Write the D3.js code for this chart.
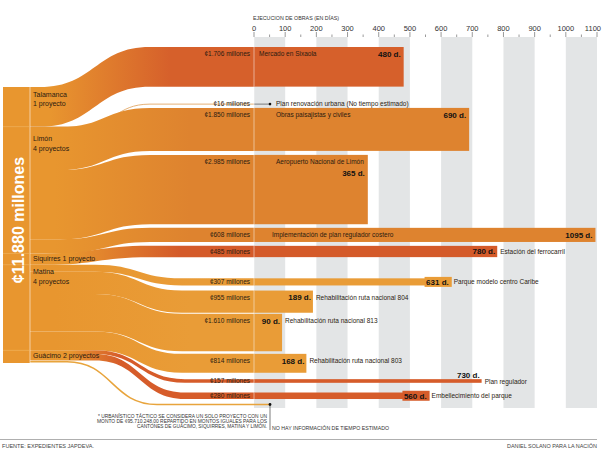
<!DOCTYPE html>
<html>
<head>
<meta charset="utf-8">
<script src="https://cdn.jsdelivr.net/npm/d3@7"></script>
<style>
body { margin: 0; background: #fff; }
svg { display: block; font-family: "Liberation Sans", Arial, sans-serif; }
</style>
</head>
<body>
<svg id="chart" width="604" height="457"></svg>
<script>
// datos
const TOTAL = 11880
const totalLabel = '¢11.880 millones'
const cantonLines = [['Talamanca', '1 proyecto'], ['Limón', '4 proyectos'], ['Siquirres 1 proyecto'], ['Matina', '4 proyectos'], ['Guácimo 2 proyectos']]
const projects = ['Mercado en Sixaola', 'Plan renovación urbana (No tiempo estimado)', 'Obras paisajistas y civiles',
	'Aeropuerto Nacional de Limón', 'Implementación de plan regulador costero', 'Estación del ferrocarril',
	'Parque modelo centro Caribe', 'Rehabilitación ruta nacional 804', 'Rehabilitación ruta nacional 813',
	'Rehabilitación ruta nacional 803', 'Plan regulador', 'Embellecimiento del parque']
const projectCanton = [0, 1, 1, 1, 1, 2, 3, 3, 3, 3, 4, 4]
const amounts = [1706, 16, 1850, 2985, 608, 485, 307, 955, 1610, 814, 157, 280]
const days = [480, null, 690, 365, 1095, 780, 631, 189, 90, 168, 730, 560]
const dayTicks = [0, 100, 200, 300, 400, 500, 600, 700, 800, 900, 1000, 1100]
const axisTitle = 'EJECUCION DE OBRAS (EN DÍAS)'
const footnote = ['* URBANÍSTICO TÁCTICO SE CONSIDERA UN SOLO PROYECTO CON UN',
	'MONTO DE  ¢95.710.248,00 REPARTIDO EN MONTOS IGUALES PARA LOS',
	'CANTONES DE GUÁCIMO, SIQUIRRES, MATINA Y LIMÓN.']
const noTime = 'NO HAY INFORMACIÓN DE TIEMPO ESTIMADO'
const source = 'FUENTE: EXPEDIENTES JAPDEVA.'
const credit = 'DANIEL SOLANO PARA LA NACIÓN'

// maqueta
const x = d3.scaleLinear().domain([0, 1100]).range([254, 597])
const h = d3.scaleLinear().domain([0, TOTAL]).range([0, 276])
const leftTop = 87
const barTop0 = 47
const gaps = [0, 17.3, 3.6, 4, 3.6, 3.9, 21.2, 5.1, 1.1, 2.6, 6.4, 9.7]
const urbanGap = 5.5
const curveSpan = [[40, 150], [60, 150], [45, 150], [95, 182], [95, 185]]
const gradSpan = [[50, 170], [55, 190], [70, 180], [55, 190], [70, 120]]
const labelDy = [7, 12, 5.5, 7, 5.5]
const colors = ['#d6602b', '#de832f', '#d45a29', '#e99c37', '#d65c2a']
const leftColor = '#e8962f'
const textColor = '#2b1b10'

const svg = d3.select('#chart')
const fmt = v => '¢' + d3.format(',')(v).replace(/,/g, '.') + ' millones'

// gradientes por cantón
const defs = svg.append('defs')
colors.forEach((c, i) => {
	const g = defs.append('linearGradient').attr('id', 'g' + i)
		.attr('gradientUnits', 'userSpaceOnUse').attr('x1', gradSpan[i][0]).attr('x2', gradSpan[i][1]).attr('y1', 0).attr('y2', 0)
	g.append('stop').attr('offset', 0).attr('stop-color', leftColor)
	g.append('stop').attr('offset', 1).attr('stop-color', c)
})

// franjas grises y eje
for (var i = 0; i < dayTicks.length - 1; i += 2) {
	svg.append('rect').attr('x', x(dayTicks[i])).attr('y', 37)
		.attr('width', x(dayTicks[i + 1]) - x(dayTicks[i])).attr('height', 371).attr('fill', '#e3e5e6')
}
const axis = svg.append('g')
axis.selectAll('line.major').data(dayTicks).join('line')
	.attr('x1', d => x(d)).attr('x2', d => x(d)).attr('y1', 32).attr('y2', 37)
	.attr('stroke', '#555').attr('stroke-width', 0.6)
axis.selectAll('line.minor').data(dayTicks.slice(0, -1)).join('line')
	.attr('x1', d => x(d + 50)).attr('x2', d => x(d + 50)).attr('y1', 34.5).attr('y2', 37)
	.attr('stroke', '#555').attr('stroke-width', 0.6)
axis.selectAll('text').data(dayTicks).join('text')
	.attr('x', d => x(d)).attr('y', 31).attr('text-anchor', d => d === 1100 ? 'end' : 'middle')
	.attr('dx', d => d === 1100 ? 4 : 0)
	.attr('font-size', 7.5).attr('font-weight', 300).attr('fill', '#333').text(d => d)
svg.append('text').attr('x', 253).attr('y', 20).attr('font-size', 5.5).attr('fill', '#333')
	.attr('textLength', 86).attr('lengthAdjust', 'spacingAndGlyphs').text(axisTitle)

// posiciones
var cum = 0, rt = barTop0
const nodes = amounts.map((a, i) => {
	const n = { i: i, c: projectCanton[i], hh: h(a), yL: leftTop + h(cum) }
	if (i > 0) rt += gaps[i]
	n.yR = rt
	rt += n.hh
	cum += a
	return n
})
const remainder = TOTAL - cum
const cantonTop = cantonLines.map((_, c) => d3.min(nodes.filter(n => n.c === c), n => n.yL))

// columna izquierda
svg.append('rect').attr('x', 3).attr('y', leftTop).attr('width', 27).attr('height', h(TOTAL)).attr('fill', leftColor)

function bandPath(n, xEnd) {
	const [xs, xe] = curveSpan[n.c], xm = (xs + xe) / 2
	const p = d3.path()
	p.moveTo(30, n.yL)
	p.lineTo(xs, n.yL)
	p.bezierCurveTo(xm, n.yL, xm, n.yR, xe, n.yR)
	p.lineTo(xEnd, n.yR)
	p.lineTo(xEnd, n.yR + n.hh)
	p.lineTo(xe, n.yR + n.hh)
	p.bezierCurveTo(xm, n.yR + n.hh, xm, n.yL + n.hh, xs, n.yL + n.hh)
	p.lineTo(30, n.yL + n.hh)
	p.closePath()
	return p.toString()
}
function linePath(xs, xe, y0, y1, xEnd) {
	const xm = (xs + xe) / 2, p = d3.path()
	p.moveTo(30, y0); p.lineTo(xs, y0)
	p.bezierCurveTo(xm, y0, xm, y1, xe, y1)
	p.lineTo(xEnd, y1)
	return p.toString()
}

// bandas y barras
nodes.forEach(n => {
	if (days[n.i] === null) {
		const yl = n.yL + n.hh / 2, yr = n.yR + n.hh / 2
		svg.append('path').attr('d', linePath(curveSpan[n.c][0] + 20, curveSpan[n.c][1], yl, yr, x(0)))
			.attr('fill', 'none').attr('stroke', '#e2a866').attr('stroke-width', 0.9)
		svg.append('line').attr('x1', x(0)).attr('x2', 270).attr('y1', yr).attr('y2', yr)
			.attr('stroke', '#333').attr('stroke-width', 0.6)
		svg.append('circle').attr('cx', 270).attr('cy', yr).attr('r', 1.3).attr('fill', '#111')
		n.lineY = yr
		return
	}
	svg.append('path').attr('d', bandPath(n, x(0) + 0.5)).attr('fill', `url(#g${n.c})`)
	svg.append('rect').attr('x', x(0)).attr('y', n.yR).attr('width', x(days[n.i]) - x(0)).attr('height', n.hh)
		.attr('fill', colors[n.c])
})

// línea del proyecto urbanístico (resto)
const yUrbL = leftTop + h(cum) + h(remainder) / 2
const yUrbR = rt + urbanGap
svg.append('path').attr('d', linePath(67, 157, yUrbL, yUrbR, 270))
	.attr('fill', 'none').attr('stroke', '#e8a43c').attr('stroke-width', 1.5)
svg.append('line').attr('x1', 270).attr('x2', 270).attr('y1', yUrbR).attr('y2', 430)
	.attr('stroke', '#222').attr('stroke-width', 0.6)
svg.append('circle').attr('cx', 270).attr('cy', yUrbR).attr('r', 1.4).attr('fill', '#111')

// líneas blancas
svg.append('line').attr('x1', 30).attr('x2', 30).attr('y1', leftTop).attr('y2', leftTop + h(TOTAL))
	.attr('stroke', '#fff').attr('stroke-width', 0.7).attr('opacity', 0.8)
svg.append('line').attr('x1', x(0)).attr('x2', x(0)).attr('y1', 37).attr('y2', 400)
	.attr('stroke', '#fff').attr('stroke-width', 0.7).attr('opacity', 0.7)
cantonTop.slice(1).forEach(y => {
	svg.append('line').attr('x1', 3).attr('x2', 30).attr('y1', y).attr('y2', y)
		.attr('stroke', '#f3bd6e').attr('stroke-width', 0.5)
})

// total
svg.append('text').attr('transform', `translate(23.5,${leftTop + h(TOTAL) / 2 - 5}) rotate(-90)`)
	.attr('text-anchor', 'middle').attr('font-size', 16).attr('font-weight', 'bold').attr('fill', '#fff')
	.text(totalLabel)

// etiquetas de cantón
cantonLines.forEach((lines, c) => {
	const t = svg.append('text').attr('x', 33).attr('font-size', 7).attr('fill', textColor)
	lines.forEach((l, k) => {
		t.append('tspan').attr('x', 33).attr('y', cantonTop[c] + labelDy[c] + 2.5 + k * 9.5).text(l)
	})
})

// etiquetas de montos, nombres y días
nodes.forEach(n => {
	const i = n.i
	const yMid = n.lineY !== undefined ? n.lineY : Math.min(n.yR + 7, n.yR + n.hh / 2)
	svg.append('text').attr('x', 250).attr('y', yMid + 2.3).attr('text-anchor', 'end')
		.attr('font-size', 6.5).attr('fill', textColor).text(fmt(amounts[i]))
	if (days[i] === null) {
		svg.append('text').attr('x', 276).attr('y', yMid + 2.3).attr('font-size', 6.5).attr('fill', textColor).text(projects[i])
		return
	}
	const xe = x(days[i])
	const inside = n.hh >= 14 && xe - x(0) > 100
	if (inside) {
		const nx = i === 0 ? 259 : (n.hh > 20 ? 276 : 272)
		const name = svg.append('text').attr('x', nx).attr('y', yMid + 2.3).attr('font-size', 6.5)
			.attr('fill', textColor).text(projects[i])
		const val = svg.append('text').attr('x', xe - 3).attr('y', yMid + 2.8).attr('text-anchor', 'end')
			.attr('font-size', 8).attr('font-weight', 'bold').attr('fill', '#111').text(days[i] + ' d.')
		const vw = val.node().getComputedTextLength()
		if (nx + name.node().getComputedTextLength() + 4 > xe - 3 - vw) val.attr('y', yMid + 14)
	} else {
		var vy = yMid + 2.8
		if (n.hh < 5) vy = n.yR - 1.5
		const val = svg.append('text').attr('x', xe - 2).attr('y', vy).attr('text-anchor', 'end')
			.attr('font-size', 8).attr('font-weight', 'bold').attr('fill', '#111').text(days[i] + ' d.')
		if (n.hh >= 5 && n.hh < 11) {
			const vw = val.node().getComputedTextLength()
			svg.insert('rect', () => val.node()).attr('x', xe - vw - 3.5).attr('y', yMid - 5)
				.attr('width', vw + 4.5).attr('height', 10).attr('fill', colors[n.c])
		}
		svg.append('text').attr('x', xe + 3).attr('y', yMid + 2.3 + (n.hh < 5 ? 1 : 0)).attr('font-size', 6.5)
			.attr('fill', textColor).text(projects[i])
	}
})

// nota al pie
footnote.forEach((l, k) => {
	const widths = [169, 170, 130]
	svg.append('text').attr('x', 267).attr('y', 417.5 + k * 5.4).attr('text-anchor', 'end')
		.attr('font-size', 4.8).attr('fill', '#333')
		.attr('textLength', widths[k]).attr('lengthAdjust', 'spacingAndGlyphs').text(l)
})
svg.append('text').attr('x', 272).attr('y', 429.5).attr('font-size', 4.8).attr('fill', '#333')
	.attr('textLength', 117).attr('lengthAdjust', 'spacingAndGlyphs').text(noTime)

// pie
svg.append('line').attr('x1', 0).attr('x2', 597).attr('y1', 439.5).attr('y2', 439.5)
	.attr('stroke', '#9a9a9a').attr('stroke-width', 0.8)
svg.append('text').attr('x', 2).attr('y', 448).attr('font-size', 5.8).attr('fill', '#444')
	.attr('textLength', 92).attr('lengthAdjust', 'spacingAndGlyphs').text(source)
svg.append('text').attr('x', 597).attr('y', 448).attr('text-anchor', 'end').attr('font-size', 5.8).attr('fill', '#444')
	.attr('textLength', 90).attr('lengthAdjust', 'spacingAndGlyphs').text(credit)
</script>
</body>
</html>
